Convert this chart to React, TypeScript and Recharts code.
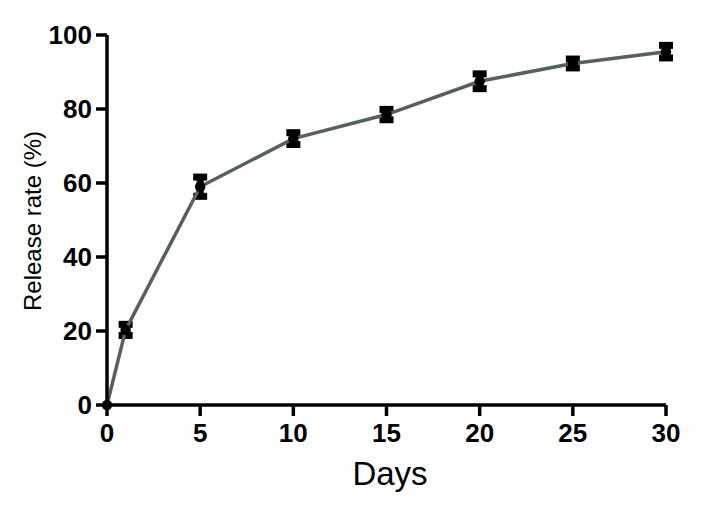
import { LineChart, Line, XAxis, YAxis, ErrorBar } from 'recharts'

const days = [0, 1, 5, 10, 15, 20, 25, 30]
const release = [0, 20.3, 59, 72, 78.5, 87.5, 92.3, 95.5]
const errors = [0, 1.5, 2.6, 1.6, 1.4, 2, 1.2, 1.7]
const xTicks = [0, 5, 10, 15, 20, 25, 30]
const yTicks = [0, 20, 40, 60, 80, 100]

const data = days.map((d, i) => ({ day: d, rate: release[i], err: errors[i] }))

const font = 'Liberation Sans, Arial, sans-serif'
const tickStyle = { fill: '#000', fontSize: 26, fontWeight: 700, fontFamily: font }

export default function App() {
  return (
    <div style={{ position: 'absolute', left: 0, top: 0, background: '#fff' }}>
      <LineChart width={708} height={508} data={data} margin={{ top: 35, right: 42, left: 0, bottom: 0 }}>
        <XAxis
          dataKey="day"
          type="number"
          domain={[0, 30]}
          ticks={xTicks}
          height={103}
          tick={tickStyle}
          tickSize={11}
          tickMargin={8}
          axisLine={{ stroke: '#000', strokeWidth: 3.5 }}
          tickLine={{ stroke: '#000', strokeWidth: 3.5 }}
          label={() => (
            <text x={390} y={485} textAnchor="middle" fontSize={33} fontFamily={font} fill="#000">
              Days
            </text>
          )}
        />
        <YAxis
          type="number"
          domain={[0, 100]}
          ticks={yTicks}
          width={107}
          tick={tickStyle}
          tickSize={11}
          tickMargin={4}
          axisLine={{ stroke: '#000', strokeWidth: 3.5 }}
          tickLine={{ stroke: '#000', strokeWidth: 3.5 }}
          label={() => (
            <text
              x={32}
              y={221}
              transform="rotate(-90 32 221)"
              textAnchor="middle"
              dominantBaseline="central"
              fontSize={24}
              fontFamily={font}
              fill="#000"
            >
              Release rate (%)
            </text>
          )}
        />
        <Line
          dataKey="rate"
          stroke="#566060"
          strokeWidth={3.5}
          dot={{ r: 3.5, fill: '#000', stroke: '#000' }}
          isAnimationActive={false}
        >
          <ErrorBar dataKey="err" direction="y" width={7} strokeWidth={7} stroke="#000" />
        </Line>
      </LineChart>
    </div>
  )
}
